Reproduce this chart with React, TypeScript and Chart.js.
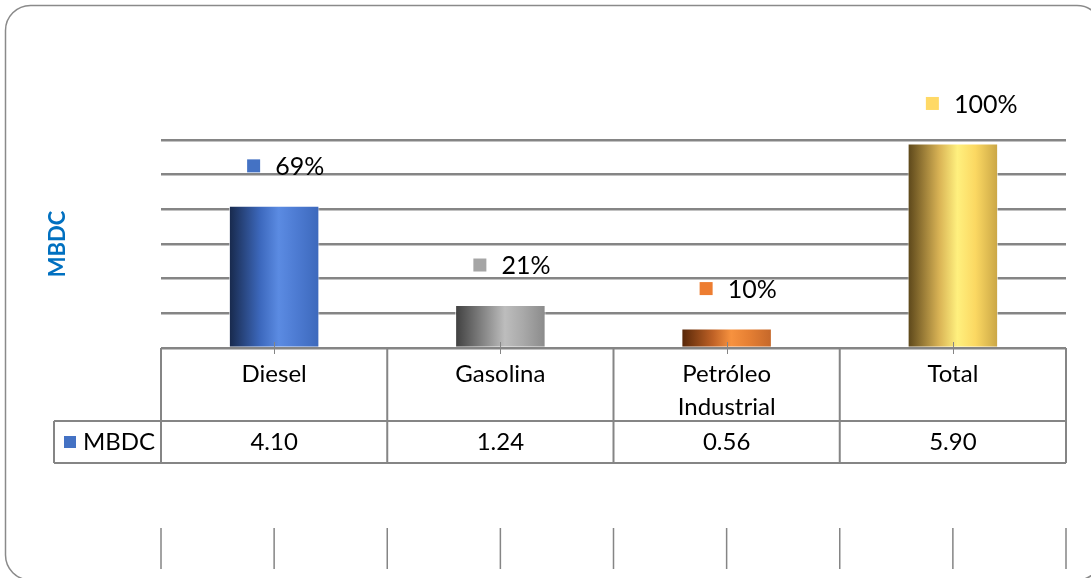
import { useEffect, useRef } from 'react';
import { Chart, registerables } from 'chart.js';

Chart.register(...registerables);

// ---- data ----
const categoryLines: string[][] = [['Diesel'], ['Gasolina'], ['Petróleo', 'Industrial'], ['Total']];
const mbdcValues = [4.1, 1.24, 0.56, 5.9];
const sharePercent = [69, 21, 10, 100];
const yTickValues = [0, 1, 2, 3, 4, 5, 6];
const seriesName = 'MBDC';
const axisTitle = 'MBDC';

// ---- styles ----
const keyColors = ['#4472C4', '#A5A5A5', '#ED7D31', '#FFD966'];
const gradientStops = [0, 0.35, 0.55, 0.75, 1];
const barShades = [
  ['#17284a', '#3d69be', '#5b8be2', '#4d7bd2', '#3c68bb'],
  ['#3f3f3f', '#8e8e8e', '#bdbdbd', '#a9a9a9', '#8a8a8a'],
  ['#552608', '#c06226', '#f7923f', '#e57f33', '#c4672a'],
  ['#5a4519', '#d9b355', '#fff07e', '#fbd862', '#c9a545'],
];
const BAR_PCT = 0.4;
const FONT = 'Lato, "Open Sans", sans-serif';
const LINE_GRAY = '#858585';

const decorPlugin = {
  id: 'decor',
  beforeDraw(chart: any) {
    const { ctx, width, height } = chart;
    ctx.save();
    ctx.fillStyle = '#ffffff';
    ctx.fillRect(0, 0, width, height);
    // rounded frame around the whole chart
    const x0 = 5.5, y0 = 5.5, x1 = 1102, y1 = 580, r = 25;
    ctx.beginPath();
    ctx.moveTo(x0 + r, y0);
    ctx.lineTo(x1 - r, y0);
    ctx.arcTo(x1, y0, x1, y0 + r, r);
    ctx.lineTo(x1, y1 - r);
    ctx.arcTo(x1, y1, x1 - r, y1, r);
    ctx.lineTo(x0 + r, y1);
    ctx.arcTo(x0, y1, x0, y1 - r, r);
    ctx.lineTo(x0, y0 + r);
    ctx.arcTo(x0, y0, x0 + r, y0, r);
    ctx.closePath();
    ctx.strokeStyle = '#8a8a8a';
    ctx.lineWidth = 1.5;
    ctx.stroke();
    ctx.restore();
  },
  afterDraw(chart: any) {
    const { ctx, chartArea } = chart;
    const xs = chart.scales.x;
    const ys = chart.scales.y;
    const n = mbdcValues.length;
    const left = chartArea.left;
    const right = chartArea.right;
    const base = ys.getPixelForValue(0);
    const colW = (right - left) / n;
    const row1Bottom = base + 73;
    const row2Bottom = row1Bottom + 42;
    const legendLeft = 54;

    ctx.save();
    // axis title
    ctx.save();
    ctx.translate(58, (chartArea.top + chartArea.bottom) / 2);
    ctx.rotate(-Math.PI / 2);
    ctx.font = `bold 22px ${FONT}`;
    ctx.fillStyle = '#0070C0';
    ctx.textAlign = 'center';
    ctx.textBaseline = 'middle';
    ctx.fillText(axisTitle, 0, 0);
    ctx.restore();

    // data table grid
    ctx.strokeStyle = LINE_GRAY;
    ctx.lineWidth = 2;
    ctx.beginPath();
    ctx.moveTo(legendLeft, row1Bottom);
    ctx.lineTo(right, row1Bottom);
    ctx.moveTo(legendLeft, row2Bottom);
    ctx.lineTo(right, row2Bottom);
    ctx.moveTo(legendLeft, row1Bottom);
    ctx.lineTo(legendLeft, row2Bottom);
    for (let i = 0; i <= n; i++) {
      const x = left + i * colW;
      ctx.moveTo(x, base);
      ctx.lineTo(x, row2Bottom);
    }
    ctx.stroke();

    // category ticks on the baseline
    ctx.lineWidth = 1;
    ctx.beginPath();
    for (let i = 0; i < n; i++) {
      const cx = Math.round(xs.getPixelForValue(i)) + 0.5;
      ctx.moveTo(cx, base - 6);
      ctx.lineTo(cx, base + 6);
    }
    ctx.stroke();

    // lower tick row
    ctx.lineWidth = 1.5;
    ctx.beginPath();
    for (let k = 0; k <= 2 * n; k++) {
      const x = left + (k * colW) / 2;
      ctx.moveTo(x, row2Bottom + 65);
      ctx.lineTo(x, row2Bottom + 106);
    }
    ctx.stroke();

    // table text
    ctx.fillStyle = '#000000';
    ctx.textAlign = 'center';
    ctx.textBaseline = 'middle';
    ctx.font = `24px ${FONT}`;
    for (let i = 0; i < n; i++) {
      const cx = xs.getPixelForValue(i);
      categoryLines[i].forEach((line, j) => {
        ctx.fillText(line, cx, base + 26 + j * 33);
      });
      ctx.fillText(mbdcValues[i].toFixed(2), cx, (row1Bottom + row2Bottom) / 2);
    }
    // series key in the table
    const rowMid = (row1Bottom + row2Bottom) / 2;
    ctx.fillStyle = keyColors[0];
    ctx.fillRect(64, rowMid - 6, 12, 12);
    ctx.fillStyle = '#000000';
    ctx.textAlign = 'left';
    ctx.fillText(seriesName, 83, rowMid);

    // share labels above bars
    const meta = chart.getDatasetMeta(0);
    ctx.font = `25px ${FONT}`;
    meta.data.forEach((bar: any, i: number) => {
      const cy = bar.y - 40;
      const sx = bar.x - 27;
      ctx.fillStyle = keyColors[i];
      ctx.fillRect(sx, cy - 6.5, 13, 13);
      ctx.fillStyle = '#000000';
      ctx.textAlign = 'left';
      ctx.fillText(`${sharePercent[i]}%`, sx + 28, cy + 1);
    });
    ctx.restore();
  },
};

export default function App() {
  const canvasRef = useRef<HTMLCanvasElement | null>(null);

  useEffect(() => {
    const canvas = canvasRef.current;
    if (!canvas) return;
    const chart = new Chart(canvas, {
      type: 'bar',
      data: {
        labels: categoryLines.map((l) => l.join(' ')),
        datasets: [
          {
            label: seriesName,
            data: mbdcValues,
            backgroundColor: (c: any) => {
              const i = c.dataIndex;
              const xs = c.chart.scales?.x;
              if (i == null || !xs) return keyColors[0];
              const cx = xs.getPixelForValue(i);
              const half = ((xs.right - xs.left) / mbdcValues.length) * BAR_PCT / 2;
              if (!isFinite(cx) || !isFinite(half)) return keyColors[i];
              const g = c.chart.ctx.createLinearGradient(cx - half, 0, cx + half, 0);
              barShades[i].forEach((col, k) => g.addColorStop(gradientStops[k], col));
              return g;
            },
            borderColor: 'rgba(255,255,255,0.7)',
            borderWidth: 1,
            borderSkipped: 'bottom',
            barPercentage: BAR_PCT,
            categoryPercentage: 1,
          },
        ],
      },
      options: {
        animation: false,
        responsive: false,
        devicePixelRatio: 1,
        layout: { padding: { left: 161, right: 25, top: 140, bottom: 230 } },
        plugins: {
          legend: { display: false },
          tooltip: { enabled: false },
          title: { display: false },
        },
        scales: {
          x: {
            display: true,
            grid: { display: false, drawTicks: false },
            border: { display: false },
            ticks: { display: false },
            afterFit: (s: any) => {
              s.height = 0;
            },
          },
          y: {
            min: yTickValues[0],
            max: yTickValues[yTickValues.length - 1],
            afterBuildTicks: (s: any) => {
              s.ticks = yTickValues.map((v) => ({ value: v }));
            },
            grid: { color: LINE_GRAY, lineWidth: 2.5, drawTicks: false },
            border: { display: false },
            ticks: { display: false },
            afterFit: (s: any) => {
              s.width = 0;
            },
          },
        },
      },
      plugins: [decorPlugin],
    });
    return () => chart.destroy();
  }, []);

  return (
    <div style={{ position: 'fixed', left: 0, top: 0, width: 1091, height: 578, background: '#fff' }}>
      <canvas ref={canvasRef} width={1091} height={578} style={{ display: 'block' }} />
    </div>
  );
}
